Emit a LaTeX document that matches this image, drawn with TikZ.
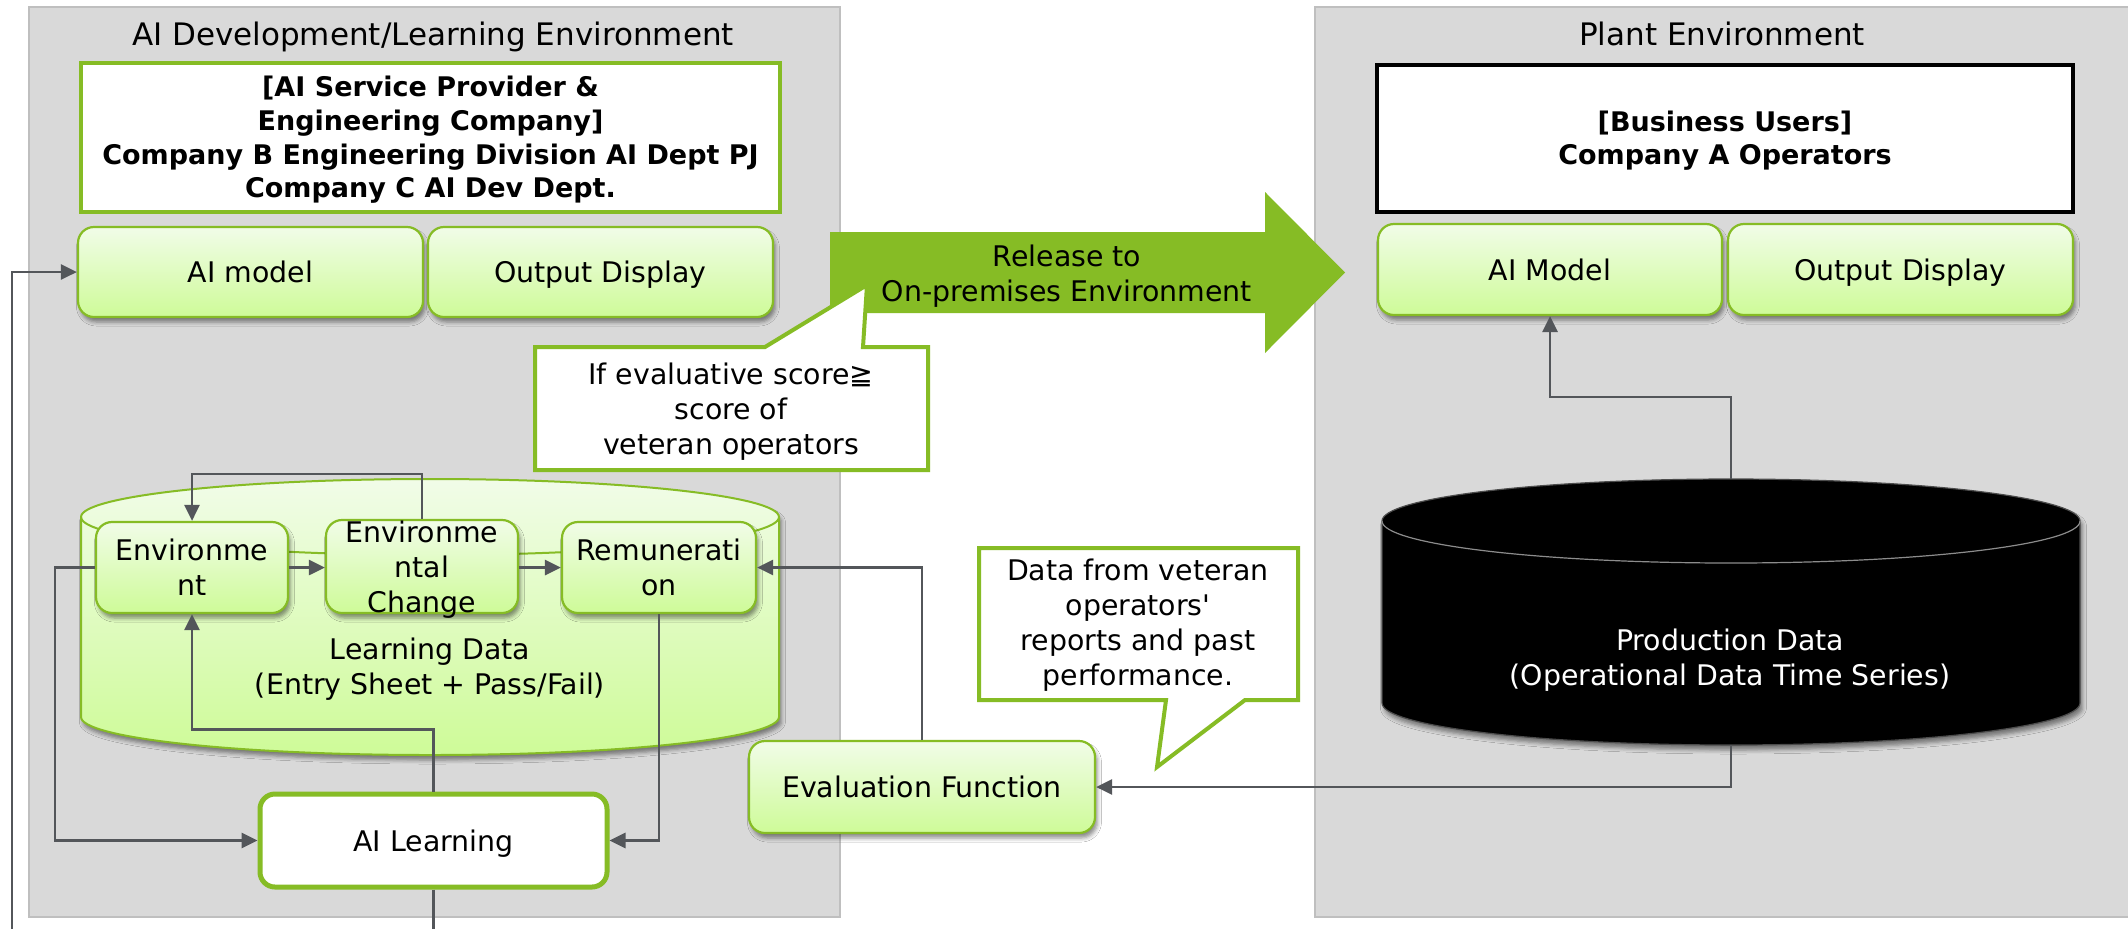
\documentclass[tikz,border=0pt]{standalone}
\usepackage{fontspec}
\setmainfont{DejaVu Sans}
\usetikzlibrary{arrows.meta,shadows.blur,calc}

\definecolor{panelgray}{HTML}{D9D9D9}
\definecolor{panelline}{HTML}{BFBFBF}
\definecolor{leaf}{HTML}{86BC25}
\definecolor{paleTop}{RGB}{241,252,232}
\definecolor{paleBot}{RGB}{206,251,152}
\definecolor{wire}{HTML}{53565A}

\tikzset{
  body/.style={font=\fontsize{14.2pt}{17.5pt}\selectfont, align=center, inner sep=0pt},
  oneline/.style={text height=12.8pt, text depth=2.2pt},
  heading/.style={font=\fontsize{15.5pt}{18pt}\selectfont, inner sep=0pt},
  strong/.style={font=\fontsize{13.5pt}{16.8pt}\selectfont\bfseries, align=center, inner sep=0pt},
  panel/.style={draw=panelline, fill=panelgray, line width=1pt, inner sep=0pt},
  softshadow/.style={blur shadow={shadow xshift=1.2pt, shadow yshift=-2.5pt, shadow blur radius=2pt, shadow opacity=45}},
  greenbox/.style={body, draw=leaf, line width=1.1pt, rounded corners=8pt,
    top color=paleTop, bottom color=paleBot, softshadow},
  orgbox/.style={strong, fill=white, line width=2pt},
  wire/.style={draw=wire, line width=1.4pt, -{Triangle[length=8pt,width=7.5pt]}},
  callout/.style={fill=white, draw=leaf, line width=2pt, line join=miter},
}

\begin{document}
\begin{tikzpicture}[x=0.5pt, y=-0.5pt]
\useasboundingbox (0,0) rectangle (2128,928);
\clip (0,0) rectangle (2128,928);
\fill[white] (0,0) rectangle (2128,928);

% environments
\node[panel, minimum width=405.5pt, minimum height=455pt] (devpanel) at (434.5,462) {};
\node[panel, minimum width=408pt, minimum height=455pt] (plantpanel) at (1723,462) {};
\node[heading, oneline] (devtitle) at (433,35) {AI Development/Learning Environment};
\node[heading, oneline] (planttitle) at (1722,35) {Plant Environment};

% organisations
\node[orgbox, draw=leaf, minimum width=349.5pt, minimum height=74.5pt] (provider) at (430.5,137.5) {};
\node[strong] (providertext) at (430.5,140)
  {[AI Service Provider \&\\Engineering Company]\\Company B Engineering Division AI Dept PJ\\Company C AI Dev Dept.};
\node[orgbox, draw=black, line width=2.25pt, minimum width=348pt, minimum height=73.5pt] (users) at (1725,138.5) {};
\node[strong] (userstext) at (1725,140.5) {[Business Users]\\Company A Operators};

% model and display blocks
\node[greenbox, oneline, minimum width=172.5pt, minimum height=45pt] (aimL) at (250.5,272) {AI model};
\node[greenbox, oneline, minimum width=172.5pt, minimum height=45pt] (outL) at (600.5,272) {Output Display};
\node[greenbox, oneline, minimum width=172pt, minimum height=45.5pt] (aimR) at (1550,269.5) {AI Model};
\node[greenbox, oneline, minimum width=172.5pt, minimum height=45.5pt] (outR) at (1900.5,269.5) {Output Display};

% learning data store
\draw[draw=leaf, line width=1pt, top color=paleTop, bottom color=paleBot, softshadow]
  (81,517) -- (81,717) arc[start angle=180, end angle=0, x radius=349, y radius=38]
  -- (779,517) arc[start angle=0, end angle=-180, x radius=349, y radius=38] -- cycle;
\draw[leaf, line width=1pt] (81,517) arc[start angle=180, end angle=0, x radius=349, y radius=38];
\node[body] (learntext) at (430,669.5) {Learning Data\\(Entry Sheet + Pass/Fail)};

\node[greenbox, minimum width=96pt, minimum height=45.5pt] (env) at (192,567.5) {Environme\\nt};
\node[greenbox, minimum width=96pt, minimum height=46.5pt] (envc) at (422,566.5) {};
\node[body] (envctext) at (422,570) {Environme\\ntal\\Change};
\node[greenbox, minimum width=97pt, minimum height=45.5pt] (rem) at (659,567.5) {Remunerati\\on};

\node[body, oneline, fill=white, draw=leaf, line width=2.5pt, rounded corners=7.5pt,
      minimum width=173.5pt, minimum height=46.5pt] (ail) at (433.5,840.5) {AI Learning};
\node[greenbox, oneline, minimum width=173pt, minimum height=46pt] (evalf) at (922,787) {Evaluation Function};

% production data store
\draw[draw=black!70, line width=0.6pt, fill=black, softshadow]
  (1382,521) -- (1382,703) arc[start angle=180, end angle=0, x radius=349, y radius=42]
  -- (2080,521) arc[start angle=0, end angle=-180, x radius=349, y radius=42] -- cycle;
\draw[black!45, line width=0.6pt] (1382,521) arc[start angle=180, end angle=0, x radius=349, y radius=42];
\node[body, text=white] (prodtext) at (1730,660) {Production Data\\(Operational Data Time Series)};
\coordinate (pdtop) at (1731,479);
\coordinate (pdbot) at (1731,745);

% connectors
\coordinate (underside) at (433.5,960);
\coordinate (leftrail) at (12,960);
\draw[wire] (ail.south) -- (underside) -- (leftrail) -- (leftrail |- aimL.west) -- (aimL.west);
\draw[wire] (env.west) -- ++(-40,0) |- (ail.west);
\draw[wire] (env.east) -- (envc.west |- env.east);
\draw[wire] (envc.east |- env.east) -- (rem.west);
\draw[wire] (envc.north) -- ++(0,-45) -| (env.north);
\draw[wire] (ail.north) -- ++(0,-62) -| (env.south);
\draw[wire] (rem.south) |- (ail.east);
\draw[wire] (evalf.north) |- (rem.east);
\draw[wire] (pdbot) |- (evalf.east);
\draw[wire] (pdtop) -- ++(0,-82) -| (aimR.south);

% release arrow
\fill[leaf] (830,232) -- (1265,232) -- (1265,192) -- (1345,272.5) -- (1265,353)
  -- (1265,313) -- (830,313) -- cycle;
\node[body] (releasetext) at (1067,276) {Release to\\On-premises Environment};

% callouts
\draw[callout] (535,347) -- (765,347) -- (867,285) -- (863,347) -- (928,347)
  -- (928,470) -- (535,470) -- cycle;
\node[body] (conditiontext) at (731,412) {If evaluative score≧\\score of\\veteran operators};
\draw[callout] (979,548) -- (1298,548) -- (1298,700) -- (1245,700) -- (1157,767)
  -- (1166,700) -- (979,700) -- cycle;
\node[body] (veterantext) at (1138,625.5) {Data from veteran\\operators\textquotesingle\\reports and past\\performance.};
\end{tikzpicture}
\end{document}
